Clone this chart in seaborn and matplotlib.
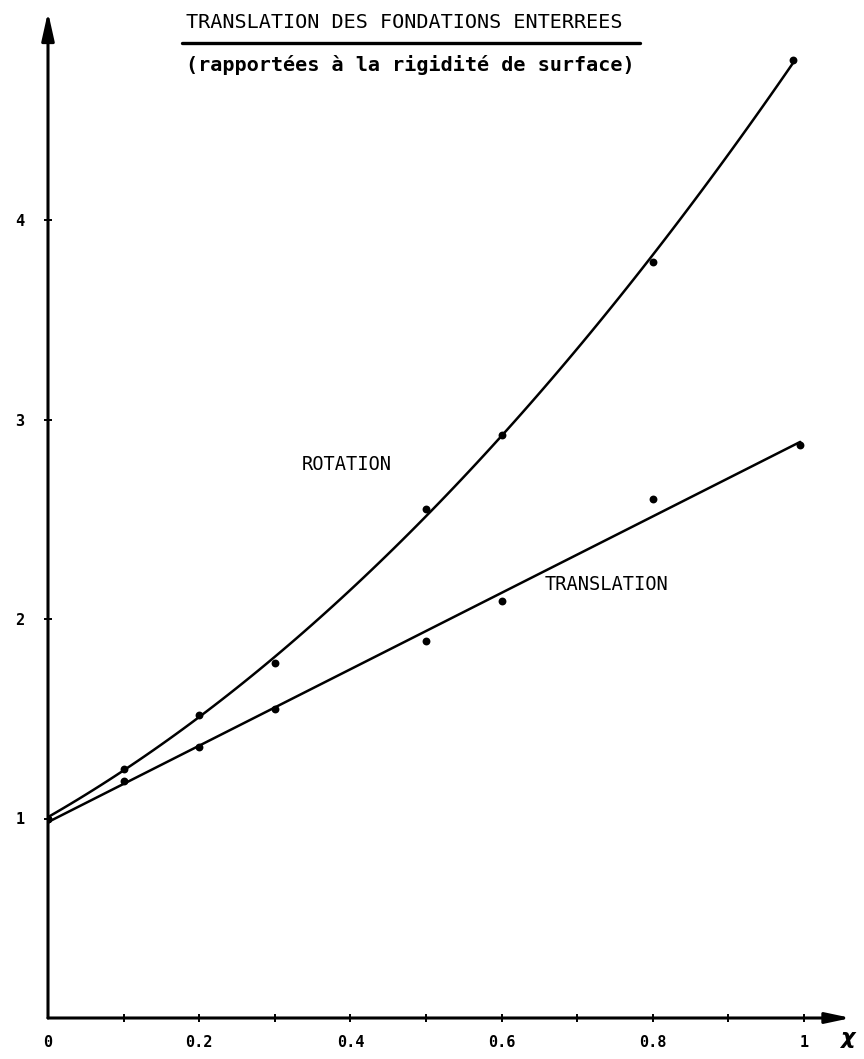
import numpy as np
import pandas as pd
import matplotlib
matplotlib.use("Agg")
import matplotlib.pyplot as plt
import seaborn as sns

# Relative stiffness of embedded foundations vs. embedment ratio chi
chi_rotation = [0.0, 0.1, 0.2, 0.3, 0.5, 0.6, 0.8, 0.985]
k_rotation = [1.0, 1.25, 1.52, 1.78, 2.55, 2.92, 3.79, 4.80]

chi_translation = [0.0, 0.1, 0.2, 0.3, 0.5, 0.6, 0.8, 0.995]
k_translation = [1.0, 1.19, 1.36, 1.55, 1.89, 2.09, 2.60, 2.87]

x_ticks = [0.0, 0.2, 0.4, 0.6, 0.8, 1.0]
x_ticklabels = ["0", "0.2", "0.4", "0.6", "0.8", "1"]
y_ticks = [1, 2, 3, 4]
y_ticklabels = ["1", "2", "3", "4"]

title = "TRANSLATION DES FONDATIONS ENTERREES"
subtitle = "(rapportées à la rigidité de surface)"

sns.set_style("white")
plt.rcParams["font.family"] = ["DejaVu Sans Mono", "DejaVu Sans"]

W, H = 864, 1059
fig = plt.figure(figsize=(W / 100, H / 100), dpi=100)
fig.patch.set_facecolor("white")

x0_px, y0_px = 48, 1018
px_per_x, px_per_y = 756.0, 199.5
right_px, top_px = 851, 12
ax = fig.add_axes([x0_px / W, 1 - y0_px / H, (right_px - x0_px) / W, (y0_px - top_px) / H])
xmax = (right_px - x0_px) / px_per_x
ymax = (y0_px - top_px) / px_per_y
ax.set_xlim(0, xmax)
ax.set_ylim(0, ymax)
ax.set_facecolor("none")

rot = pd.DataFrame({"chi": chi_rotation, "k": k_rotation})
tra = pd.DataFrame({"chi": chi_translation, "k": k_translation})

pt_style = {"s": 32, "linewidths": 0, "alpha": 1.0, "zorder": 4}
sns.regplot(data=rot, x="chi", y="k", order=2, ci=None, color="black", ax=ax,
            scatter_kws=pt_style, line_kws={"lw": 1.8})
sns.regplot(data=tra, x="chi", y="k", order=1, ci=None, color="black", ax=ax,
            scatter_kws=pt_style, line_kws={"lw": 1.8})
ax.set_xlabel("")
ax.set_ylabel("")

# axes drawn as arrows
for s in ax.spines.values():
    s.set_visible(False)
ax.annotate("", xy=(0, ymax), xytext=(0, 0), xycoords="data",
            arrowprops=dict(arrowstyle="-|>,head_length=1.7,head_width=0.38",
                            color="black", lw=2.2, mutation_scale=10,
                            shrinkA=0, shrinkB=0), annotation_clip=False)
ax.annotate("", xy=(xmax, 0), xytext=(0, 0), xycoords="data",
            arrowprops=dict(arrowstyle="-|>,head_length=1.5,head_width=0.32",
                            color="black", lw=2.2, mutation_scale=10,
                            shrinkA=0, shrinkB=0), annotation_clip=False)

tick_font = dict(family="DejaVu Sans Mono", weight="bold", size=11)
ax.set_xticks(x_ticks)
ax.set_xticks([0.1, 0.3, 0.5, 0.7, 0.9], minor=True)
ax.set_xticklabels(x_ticklabels, fontdict=tick_font)
ax.set_yticks(y_ticks)
ax.set_yticklabels(y_ticklabels, fontdict=tick_font)
ax.tick_params(axis="both", which="both", direction="inout", length=6, width=1.4,
               color="black", labelcolor="black", bottom=True, left=True)
ax.tick_params(axis="x", which="major", pad=9)
ax.tick_params(axis="y", which="major", pad=14)
ax.get_xticklines()[0].set_visible(False)

# axis symbol
ax.text(xmax - 0.005, -0.05, "χ", fontsize=16, fontweight="bold", fontstyle="italic",
        family="DejaVu Sans", ha="center", va="top", color="black")

# curve labels
lab_font = dict(family="DejaVu Sans Mono", fontsize=13.5, color="black")
ax.text((302 - x0_px) / px_per_x, (y0_px - 465) / px_per_y, "ROTATION",
        ha="left", va="center", **lab_font)
ax.text((545 - x0_px) / px_per_x, (y0_px - 585) / px_per_y, "TRANSLATION",
        ha="left", va="center", **lab_font)

# heading with underline
fig.text(186 / W, 1 - 22 / H, title, ha="left", va="center",
         family="DejaVu Sans Mono", fontsize=14.5, color="black")
fig.add_artist(plt.Line2D([182 / W, 640 / W], [1 - 43 / H, 1 - 43 / H],
                          color="black", lw=2.4, transform=fig.transFigure))
fig.text(186 / W, 1 - 65 / H, subtitle, ha="left", va="center",
         family="DejaVu Sans Mono", fontsize=14.5, fontweight="bold", color="black")

fig.savefig("out.png", dpi=100, facecolor="white")
